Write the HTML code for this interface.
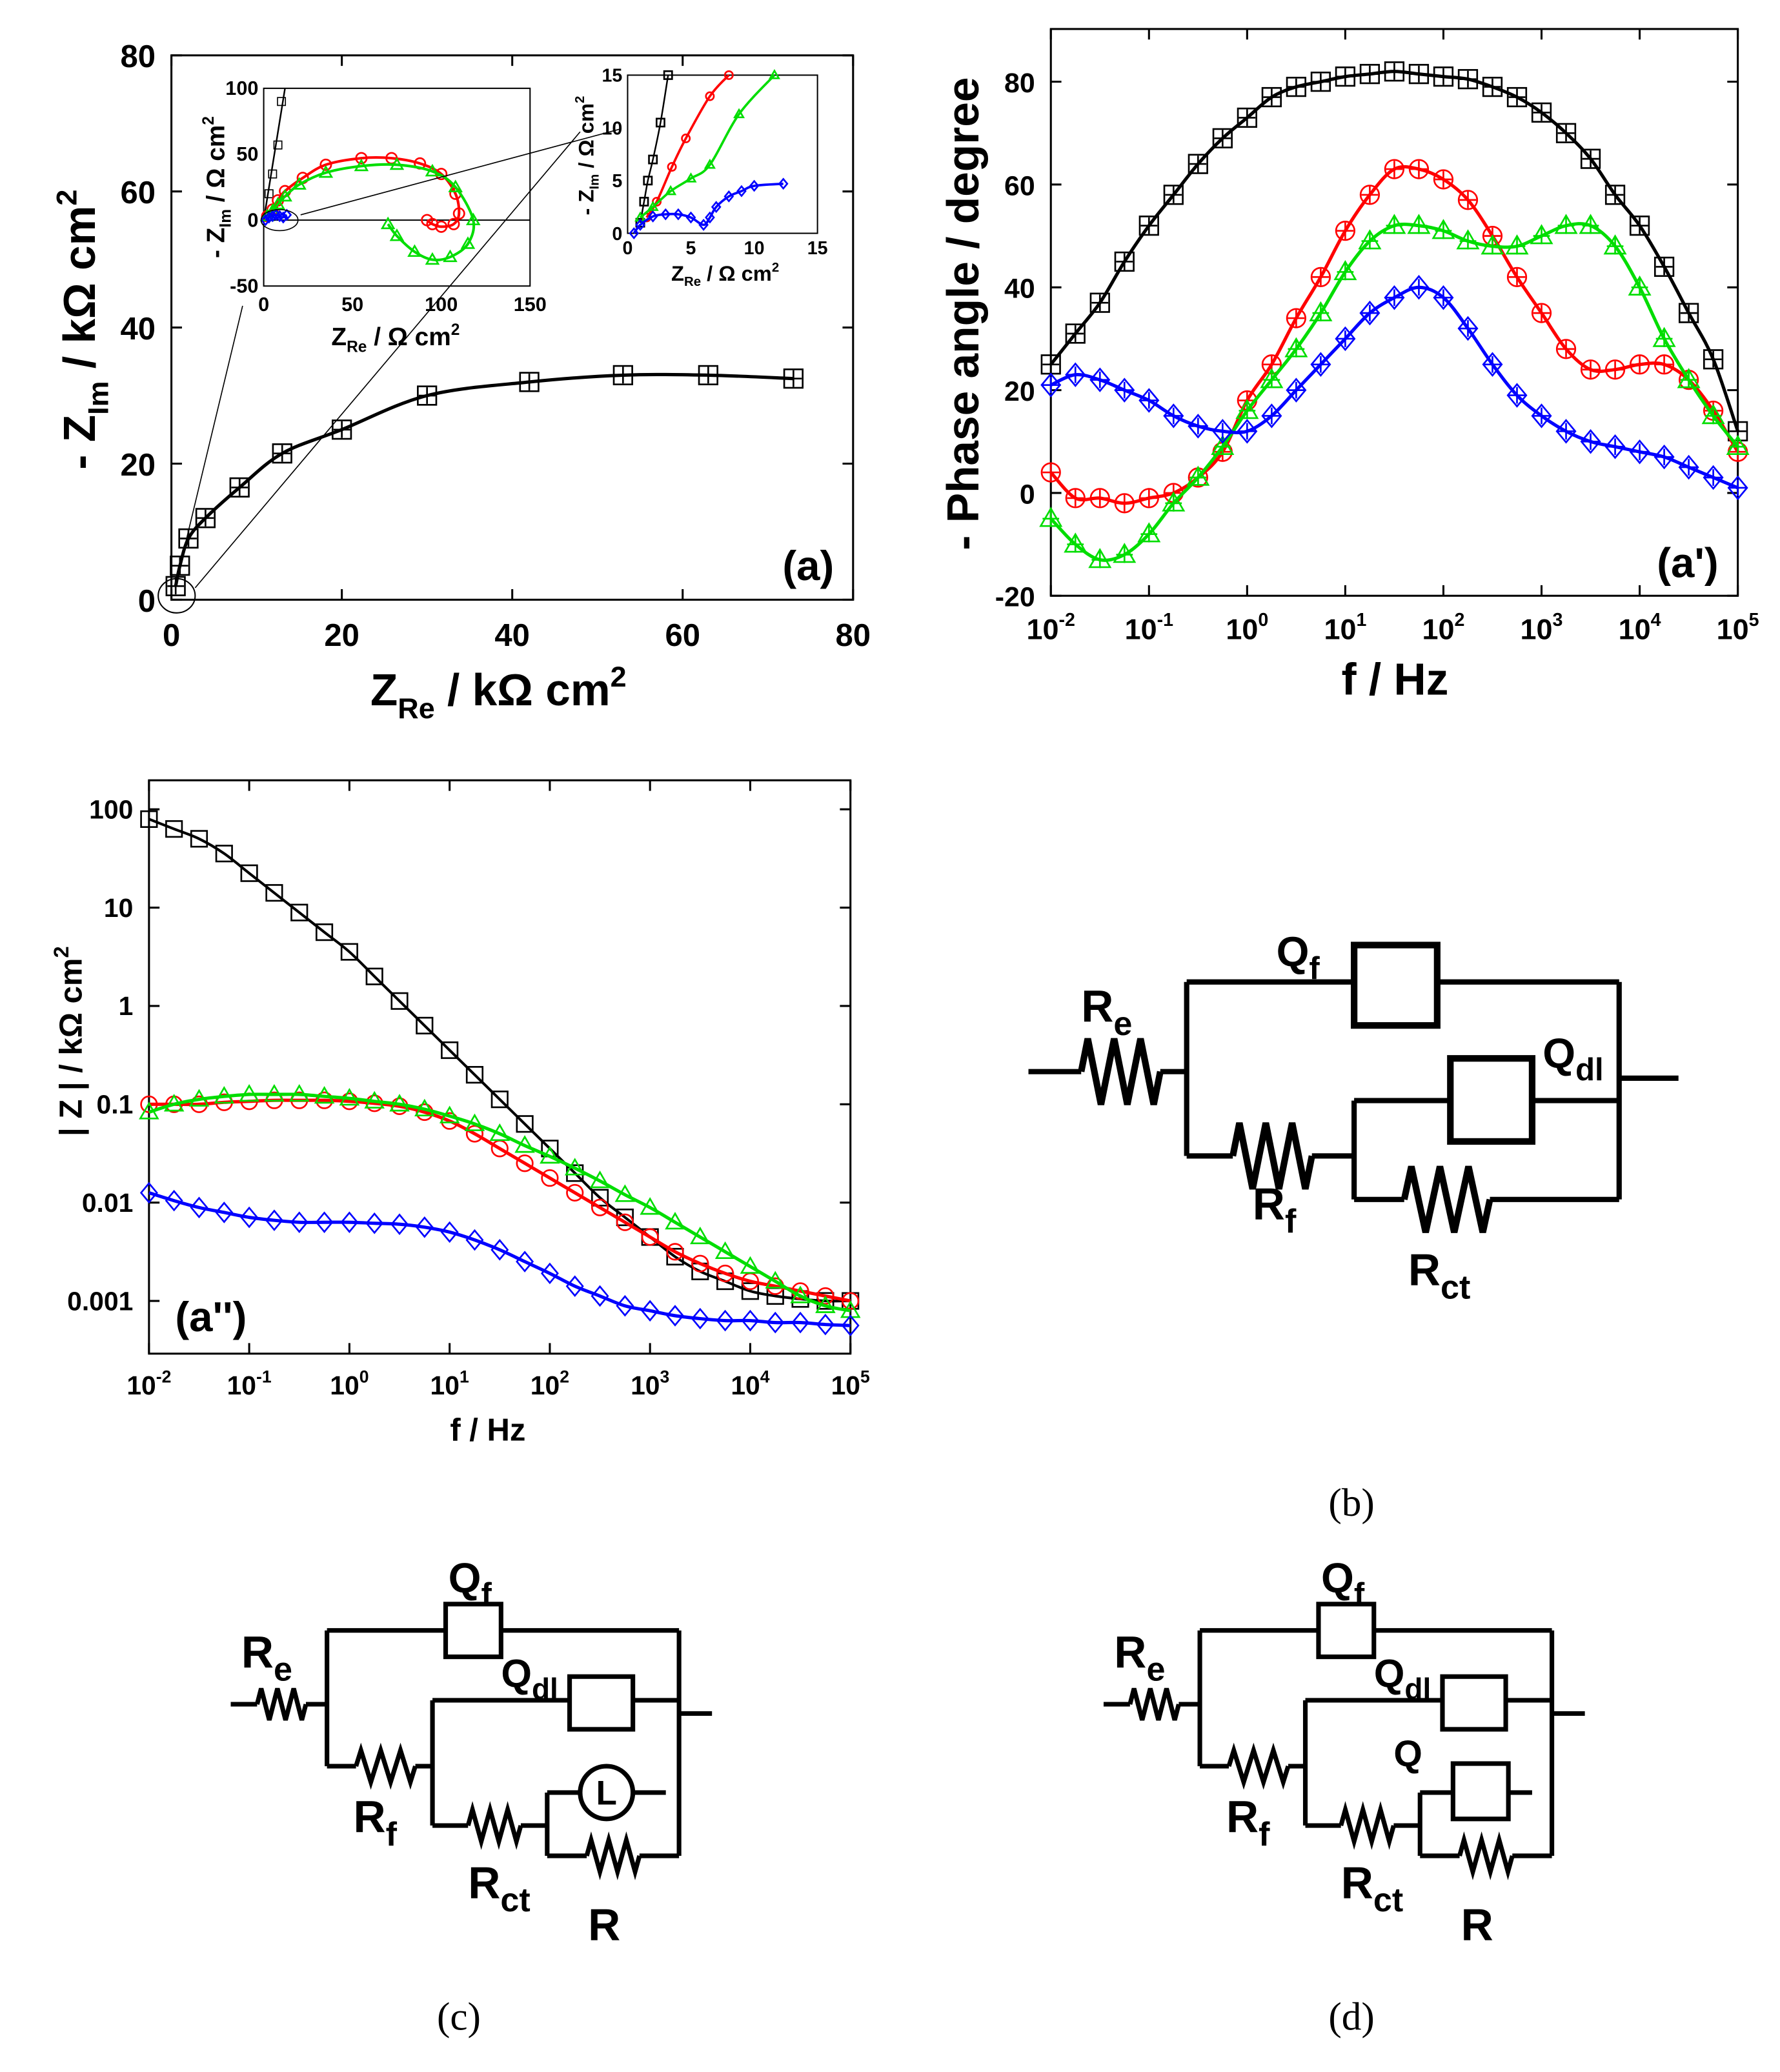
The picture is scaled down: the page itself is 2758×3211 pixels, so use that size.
<!DOCTYPE html>
<html><head><meta charset="utf-8"><style>
html,body{margin:0;padding:0;background:#fff}
svg{display:block}
text{font-family:"Liberation Sans",sans-serif;font-weight:bold}
</style></head><body>
<svg id="fig" xmlns="http://www.w3.org/2000/svg" width="2758" height="3211" viewBox="0 0 1350 1572" preserveAspectRatio="none">
<rect width="1350" height="1572" fill="#fff"/>
<g id="pa"></g>
<g id="pp"></g>
<g id="pz"></g>
<g id="circ"></g>
</svg>
<script>
// ---------- data ----------
const nyqBlackX=[0.5,1,2,4,8,13,20,30,42,53,63,73];
const nyqBlackY=[2,5,9,12,16.5,21.5,25,30,32,33,33,32.5];
const in1RedX=[2,5,8,12,22,35,55,72,88,100,108,110,107,100,95,92];
const in1RedY=[3,8,15,22,32,42,47,47,43,35,20,5,-3,-5,-3,0];
const in1GreenX=[2,5,8,12,20,35,55,75,95,108,118,115,105,95,85,75,70];
const in1GreenY=[3,7,12,18,27,36,41,42,37,25,0,-18,-28,-30,-24,-12,-3];
const in1BlueX=[1,3,5,7,9,11,13];
const in1BlueY=[0,2,3,4,3,2,4];
const in2BlackX=[1,1.3,1.6,2,2.6,3.2];
const in2BlackY=[1,3,5,7,10.5,15];
const in2RedX=[1.5,2.3,3.5,4.6,6.5,8];
const in2RedY=[1.5,3,6.3,9,13,15];
const in2GreenX=[1,2,3.4,5,6.5,8.8,11.6];
const in2GreenY=[1.5,2.5,4,5.2,6.5,11.3,15];
const in2BlueX=[0.5,1,2,3,4,5,6,6.5,7,8,9,10,12.3];
const in2BlueY=[0,0.8,1.6,1.8,1.8,1.5,0.8,1.5,2.5,3.5,4,4.5,4.7];
const logF=[-2,-1.75,-1.5,-1.25,-1,-0.75,-0.5,-0.25,0,0.25,0.5,0.75,1,1.25,1.5,1.75,2,2.25,2.5,2.75,3,3.25,3.5,3.75,4,4.25,4.5,4.75,5];
const phBlack=[25,31,37,45,52,58,64,69,73,77,79,80,81,81.5,82,81.5,81,80.5,79,77,74,70,65,58,52,44,35,26,12];
const phRed=[4,-1,-1,-2,-1,0,3,8,18,25,34,42,51,58,63,63,61,57,50,42,35,28,24,24,25,25,22,16,8];
const phGreen=[-5,-10,-13,-12,-8,-2,3,9,16,22,28,35,43,49,52,52,51,49,48,48,50,52,52,48,40,30,22,15,9];
const phBlue=[21,23,22,20,18,15,13,12,12,15,20,25,30,35,38,40,38,32,25,19,15,12,10,9,8,7,5,3,1];
const zBlack=[1.9,1.8,1.7,1.55,1.35,1.15,0.95,0.75,0.55,0.3,0.05,-0.2,-0.45,-0.7,-0.95,-1.2,-1.45,-1.7,-1.95,-2.15,-2.35,-2.55,-2.7,-2.8,-2.9,-2.95,-2.98,-3.0,-3.0];
const zRed=[-1.0,-1.0,-1.0,-0.98,-0.97,-0.96,-0.96,-0.96,-0.97,-0.99,-1.02,-1.08,-1.17,-1.3,-1.45,-1.6,-1.75,-1.9,-2.05,-2.2,-2.35,-2.5,-2.62,-2.72,-2.8,-2.85,-2.9,-2.95,-3.0];
const zGreen=[-1.08,-1.0,-0.95,-0.92,-0.9,-0.9,-0.9,-0.92,-0.94,-0.97,-1.0,-1.05,-1.12,-1.2,-1.3,-1.42,-1.53,-1.65,-1.78,-1.92,-2.05,-2.2,-2.35,-2.5,-2.65,-2.8,-2.95,-3.05,-3.1];
const zBlue=[-1.9,-1.98,-2.05,-2.1,-2.15,-2.18,-2.2,-2.2,-2.2,-2.21,-2.22,-2.25,-2.3,-2.38,-2.48,-2.6,-2.72,-2.85,-2.95,-3.05,-3.1,-3.15,-3.18,-3.2,-3.2,-3.22,-3.22,-3.24,-3.25];
const nyqTicks=[0,20,40,60,80];
const phTicks=[-20,0,20,40,60,80];
const decTicks=[-2,-1,0,1,2,3,4,5];
const zTickLabels=["0.001","0.01","0.1","1","10","100"];

// ---------- helpers ----------
const NS="http://www.w3.org/2000/svg";
function el(p,tag,a){const e=document.createElementNS(NS,tag);for(const k in a)e.setAttribute(k,a[k]);p.appendChild(e);return e;}
function txt(p,x,y,s,size,anchor,name){const t=el(p,'text',{x:x,y:y,'font-size':size,'text-anchor':anchor||'middle'});t.textContent=s;


return t;}
function smooth(pts){let d='M'+pts[0][0]+','+pts[0][1];for(let i=0;i<pts.length-1;i++){const p0=pts[i-1]||pts[i],p1=pts[i],p2=pts[i+1],p3=pts[i+2]||p2;
d+=' C'+(p1[0]+(p2[0]-p0[0])/6)+','+(p1[1]+(p2[1]-p0[1])/6)+' '+(p2[0]-(p3[0]-p1[0])/6)+','+(p2[1]-(p3[1]-p1[1])/6)+' '+p2[0]+','+p2[1];}return d;}
function marker(p,type,x,y,s,col,sw){let e;
if(type==='sq')e=el(p,'rect',{x:x-s,y:y-s,width:2*s,height:2*s,fill:'none',stroke:col,'stroke-width':sw});
else if(type==='ci')e=el(p,'circle',{cx:x,cy:y,r:s,fill:'none',stroke:col,'stroke-width':sw});
else if(type==='tr')e=el(p,'polygon',{points:`${x},${y-s*1.1} ${x-s*1.1},${y+s*0.8} ${x+s*1.1},${y+s*0.8}`,fill:'none',stroke:col,'stroke-width':sw});
else e=el(p,'polygon',{points:`${x},${y-s*1.2} ${x+s},${y} ${x},${y+s*1.2} ${x-s},${y}`,fill:'none',stroke:col,'stroke-width':sw});

}
function plus(p,x,y,s,col,sw){const e=el(p,'path',{d:`M${x-s},${y}H${x+s}M${x},${y-s}V${y+s}`,stroke:col,'stroke-width':sw});

}
function series(p,xs,ys,fx,fy,type,col,ms,lw,name,showPlus){const pts=xs.map((v,i)=>[fx(v),fy(ys[i])]);
const path=el(p,'path',{d:smooth(pts),fill:'none',stroke:col,'stroke-width':lw});


pts.forEach(q=>{marker(p,type,q[0],q[1],ms,col,1.3);if(showPlus)plus(p,q[0],q[1],ms*0.9,col,1.3);});}
function box(p,x0,y0,x1,y1,sw){const r=el(p,'rect',{x:x0,y:y0,width:x1-x0,height:y1-y0,fill:'none',stroke:'#000','stroke-width':sw});

}
const C={k:'#000',r:'#ff0000',g:'#00dd00',b:'#0000ff'};

// ---------- panel (a) ----------
const pa=document.getElementById('pa');
const ax=v=>130+v*(517/80), ay=v=>455-v*(413/80);
box(pa,130,42,647,455,1.5);
nyqTicks.forEach(t=>{el(pa,'path',{d:`M${ax(t)},455v-8M${ax(t)},42v8M130,${ay(t)}h8M647,${ay(t)}h-8`,stroke:'#000','stroke-width':1.5});
txt(pa,ax(t),490,String(t),24,'middle','x-tick-label');txt(pa,118,ay(t)+9,String(t),24,'end','y-tick-label');});
series(pa,nyqBlackX,nyqBlackY,ax,ay,'sq',C.k,7,2.5,'black',true);
el(pa,'ellipse',{cx:134,cy:452,rx:14,ry:13,fill:'none',stroke:'#000','stroke-width':1});
el(pa,'path',{d:'M134,440L184,232M148,446L440,100',stroke:'#000','stroke-width':0.8});
txt(pa,613,440,'(a)',32,'middle','panel-label-a');
const xt=txt(pa,378,535,'',34,'middle','x-axis-title');xt.innerHTML='Z<tspan font-size="22" dy="10">Re</tspan><tspan dy="-10"> / kΩ cm</tspan><tspan font-size="22" dy="-14">2</tspan>';
const yt=txt(pa,0,0,'',34,'middle','y-axis-title');yt.setAttribute('transform','translate(72,250) rotate(-90)');yt.innerHTML='- Z<tspan font-size="22" dy="10">Im</tspan><tspan dy="-10"> / kΩ cm</tspan><tspan font-size="22" dy="-14">2</tspan>';
// inset 1
const i1x=v=>200+v*(202/150), i1y=v=>167-v*(100/100);
box(pa,200,67,402,217,1);
el(pa,'path',{d:`M200,167H402`,stroke:'#000','stroke-width':1});
[0,50,100,150].forEach(t=>{txt(pa,i1x(t),236,String(t),15,'middle','inset1-x-tick');});
[100,50,0,-50].forEach(t=>{txt(pa,196,i1y(t)+5,String(t),15,'end','inset1-y-tick');});
el(pa,'path',{d:`M${i1x(0)},${i1y(0)}L${i1x(12)},${i1y(100)}`,stroke:'#000','stroke-width':1.2});
[[3,20],[5,35],[8,57],[10,90]].forEach(q=>marker(pa,'sq',i1x(q[0]),i1y(q[1]),3,C.k,0.8));
series(pa,in1RedX,in1RedY,i1x,i1y,'ci',C.r,4,2,'inset1-red',false);
series(pa,in1GreenX,in1GreenY,i1x,i1y,'tr',C.g,4,2,'inset1-green',false);
series(pa,in1BlueX,in1BlueY,i1x,i1y,'di',C.b,3,1.5,'inset1-blue',false);
el(pa,'ellipse',{cx:212,cy:167,rx:14,ry:8,fill:'none',stroke:'#000','stroke-width':0.8});
el(pa,'path',{d:'M228,163L470,98',stroke:'#000','stroke-width':0.8});
const i1t=txt(pa,300,262,'',19,'middle','inset1-x-title');i1t.innerHTML='Z<tspan font-size="12" dy="5">Re</tspan><tspan dy="-5"> / Ω cm</tspan><tspan font-size="12" dy="-8">2</tspan>';
const i1y2=txt(pa,0,0,'',19,'middle','inset1-y-title');i1y2.setAttribute('transform','translate(170,142) rotate(-90)');i1y2.innerHTML='- Z<tspan font-size="12" dy="5">Im</tspan><tspan dy="-5"> / Ω cm</tspan><tspan font-size="12" dy="-8">2</tspan>';
// inset 2
const i2x=v=>476+v*(144/15), i2y=v=>177-v*(120/15);
box(pa,476,57,620,177,1);
[0,5,10,15].forEach(t=>{txt(pa,i2x(t),193,String(t),14,'middle','inset2-x-tick');txt(pa,472,i2y(t)+5,String(t),14,'end','inset2-y-tick');});
series(pa,in2BlackX,in2BlackY,i2x,i2y,'sq',C.k,3,1.2,'inset2-black',false);
series(pa,in2RedX,in2RedY,i2x,i2y,'ci',C.r,3,1.8,'inset2-red',false);
series(pa,in2GreenX,in2GreenY,i2x,i2y,'tr',C.g,3,1.8,'inset2-green',false);
series(pa,in2BlueX,in2BlueY,i2x,i2y,'di',C.b,3,1.8,'inset2-blue',false);
const i2t=txt(pa,550,213,'',16,'middle','inset2-x-title');i2t.innerHTML='Z<tspan font-size="10" dy="4">Re</tspan><tspan dy="-4"> / Ω cm</tspan><tspan font-size="10" dy="-7">2</tspan>';
const i2y2=txt(pa,0,0,'',16,'middle','inset2-y-title');i2y2.setAttribute('transform','translate(450,118) rotate(-90)');i2y2.innerHTML='- Z<tspan font-size="10" dy="4">Im</tspan><tspan dy="-4"> / Ω cm</tspan><tspan font-size="10" dy="-7">2</tspan>';

// ---------- panel (a') ----------
const pp=document.getElementById('pp');
const px=v=>797+(v+2)*(521/7), py=v=>452-(v+20)*3.9;
box(pp,797,22,1318,452,1.5);
phTicks.forEach(t=>{el(pp,'path',{d:`M797,${py(t)}h8M1318,${py(t)}h-8`,stroke:'#000','stroke-width':1.5});txt(pp,785,py(t)+8,String(t),21,'end','y-tick-label');});
decTicks.forEach(t=>{el(pp,'path',{d:`M${px(t)},452v-8M${px(t)},22v8`,stroke:'#000','stroke-width':1.5});
const e=txt(pp,px(t),485,'',22,'middle','x-tick-label');e.innerHTML='10<tspan font-size="14" dy="-10">'+t+'</tspan>';});
series(pp,logF,phBlack,px,py,'sq',C.k,7,2.5,'phase-black',true);
series(pp,logF,phRed,px,py,'ci',C.r,7,2.5,'phase-red',true);
series(pp,logF,phGreen,px,py,'tr',C.g,7,2.5,'phase-green',true);
series(pp,logF,phBlue,px,py,'di',C.b,7,2.5,'phase-blue',true);
txt(pp,1280,438,"(a')",32,'middle','panel-label-a-prime');
txt(pp,1058,527,'f / Hz',34,'middle','x-axis-title');
const pyt=txt(pp,0,0,'- Phase angle / degree',34,'middle','y-axis-title');pyt.setAttribute('transform','translate(742,238) rotate(-90)');

// ---------- panel (a'') ----------
const pz=document.getElementById('pz');
const zx=v=>113+(v+2)*(532/7), zy=v=>987-(v+3)*74.6;
box(pz,113,592,645,1027,1.5);
zTickLabels.forEach((s,i)=>{const v=i-3;el(pz,'path',{d:`M113,${zy(v)}h8M645,${zy(v)}h-8`,stroke:'#000','stroke-width':1.5});txt(pz,101,zy(v)+7,s,20,'end','y-tick-label');});
decTicks.forEach(t=>{el(pz,'path',{d:`M${zx(t)},1027v-8M${zx(t)},592v8`,stroke:'#000','stroke-width':1.5});
const e=txt(pz,zx(t),1058,'',20,'middle','x-tick-label');e.innerHTML='10<tspan font-size="13" dy="-9">'+t+'</tspan>';});
series(pz,logF,zBlack,zx,zy,'sq',C.k,6,2,'modulus-black',false);
series(pz,logF,zRed,zx,zy,'ci',C.r,6,2.5,'modulus-red',false);
series(pz,logF,zGreen,zx,zy,'tr',C.g,6,2.5,'modulus-green',false);
series(pz,logF,zBlue,zx,zy,'di',C.b,6,2.5,'modulus-blue',false);
txt(pz,160,1010,"(a'')",32,'middle','panel-label-a-double-prime');
txt(pz,370,1093,'f / Hz',24,'middle','x-axis-title');
const zyt=txt(pz,0,0,'',24,'middle','y-axis-title');zyt.setAttribute('transform','translate(62,790) rotate(-90)');zyt.innerHTML='| Z | / kΩ cm<tspan font-size="16" dy="-10">2</tspan>';

// ---------- circuits ----------
const cg=document.getElementById('circ');
function wire(p,d,w){const e=el(p,'path',{d:d,fill:'none',stroke:'#000','stroke-width':w||4});

}
function res(p,x0,x1,y,h,w){let d=`M${x0},${y}`;const n=3,st=(x1-x0)/(2*n);for(let i=0;i<2*n;i++){d+=` L${x0+st*(i+0.5)},${y+(i%2?h:-h)}`;}d+=` L${x1},${y}`;wire(p,d,w);}
function cbox(p,x,y,w,h,sw){const r=el(p,'rect',{x:x,y:y,width:w,height:h,fill:'#fff',stroke:'#000','stroke-width':sw||4});

}
function lab(p,x,y,main,sub,size,name){const t=txt(p,x,y,'',size,'start',name);t.innerHTML=main+(sub?'<tspan font-size="'+(size*0.75)+'" dy="'+(size*0.3)+'">'+sub+'</tspan>':'');}
// (b)
wire(cg,'M780,813H820M880,813H900M900,745V877M900,745H1027M1090,745H1228M1228,745V910M1228,818H1273M900,877H935M995,877H1027M1027,835V910M1027,835H1100M1162,835H1228M1027,910H1065M1130,910H1228');
res(cg,820,880,813,25,5);res(cg,935,995,877,25,5);res(cg,1065,1130,910,25,5);
cbox(cg,1027,717,63,61,5);cbox(cg,1100,803,62,63,5);
lab(cg,820,775,'R','e',34,'label-re');lab(cg,968,733,'Q','f',32,'label-qf');lab(cg,1170,810,'Q','dl',32,'label-qdl');lab(cg,950,925,'R','f',34,'label-rf');lab(cg,1068,975,'R','ct',34,'label-rct');
// (c) and (d)
function circ2(ox,withL){
wire(cg,`M${ox+175},1293H${ox+195}M${ox+232},1293H${ox+248}M${ox+248},1237V1340M${ox+248},1237H${ox+338}M${ox+380},1237H${ox+515}M${ox+515},1237V1408M${ox+515},1300H${ox+540}M${ox+248},1340H${ox+270}M${ox+315},1340H${ox+328}M${ox+328},1290V1385M${ox+328},1290H${ox+432}M${ox+480},1290H${ox+515}M${ox+328},1385H${ox+355}M${ox+395},1385H${ox+415}M${ox+415},1360V1408M${ox+415},1408H${ox+445}M${ox+485},1408H${ox+515}`,3.5);
res(cg,ox+195,ox+232,1293,12,3.5);res(cg,ox+270,ox+315,1340,12,3.5);res(cg,ox+355,ox+395,1385,12,3.5);res(cg,ox+445,ox+485,1408,12,3.5);
cbox(cg,ox+338,1217,42,40,3.5);cbox(cg,ox+432,1272,48,40,3.5);
if(withL){wire(cg,`M${ox+415},1360H${ox+440}M${ox+480},1360H${ox+505}`,3.5);
const c=el(cg,'circle',{cx:ox+460,cy:1360,r:20,fill:'#fff',stroke:'#000','stroke-width':3.5});


txt(cg,ox+460,1369,'L',26,'middle','inductor-label');}
else{wire(cg,`M${ox+415},1360H${ox+440}M${ox+482},1360H${ox+500}`,3.5);cbox(cg,ox+440,1338,42,42,3.5);lab(cg,ox+395,1340,'Q','',28,'label-q');}
lab(cg,ox+183,1265,'R','e',34,'label-re');lab(cg,ox+340,1208,'Q','f',32,'label-qf');lab(cg,ox+380,1280,'Q','dl',30,'label-qdl');
lab(cg,ox+268,1390,'R','f',34,'label-rf');lab(cg,ox+355,1440,'R','ct',34,'label-rct');lab(cg,ox+446,1472,'R','',34,'label-r');}
circ2(0,true);circ2(662,false);
const fs=(x,y,s,n)=>{const t=txt(cg,x,y,s,30,'middle',n);t.setAttribute('style','font-family:"Liberation Serif",serif;font-weight:normal');};
fs(1025,1150,'(b)','caption-b');fs(348,1540,'(c)','caption-c');fs(1025,1540,'(d)','caption-d');
</script>
</body></html>
